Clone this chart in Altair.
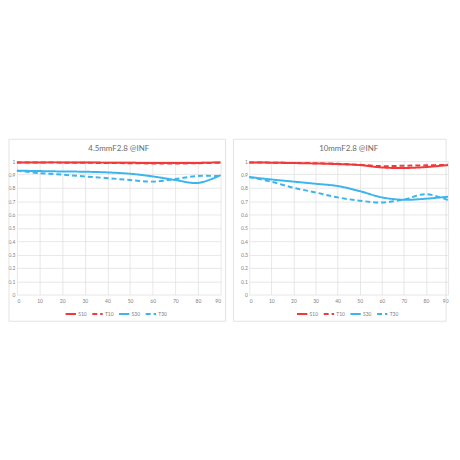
import altair as alt
import pandas as pd

# ---- data ----
angles = [0, 10, 20, 30, 40, 50, 60, 70, 80, 90]
series_names = ["S10", "T10", "S30", "T30"]

left_title = "4.5mmF2.8 @INF"
left_S10 = [0.990, 0.990, 0.990, 0.989, 0.988, 0.987, 0.985, 0.985, 0.986, 0.990]
left_T10 = [0.990, 0.989, 0.988, 0.987, 0.985, 0.984, 0.982, 0.982, 0.984, 0.988]
left_S30 = [0.928, 0.925, 0.922, 0.920, 0.915, 0.905, 0.885, 0.858, 0.836, 0.894]
left_T30 = [0.928, 0.910, 0.898, 0.885, 0.872, 0.858, 0.846, 0.865, 0.888, 0.887]

right_title = "10mmF2.8 @INF"
right_S10 = [0.990, 0.988, 0.985, 0.982, 0.977, 0.970, 0.952, 0.948, 0.955, 0.970]
right_T10 = [0.990, 0.988, 0.986, 0.984, 0.980, 0.972, 0.962, 0.965, 0.968, 0.972]
right_S30 = [0.880, 0.862, 0.846, 0.830, 0.813, 0.775, 0.728, 0.710, 0.718, 0.733]
right_T30 = [0.880, 0.845, 0.800, 0.765, 0.728, 0.703, 0.690, 0.712, 0.752, 0.707]

y_ticks = [0, 0.1, 0.2, 0.3, 0.4, 0.5, 0.6, 0.7, 0.8, 0.9, 1.0]
x_ticks = [0, 10, 20, 30, 40, 50, 60, 70, 80, 90]

series_colors = ["#f03a3a", "#f03a3a", "#3db5ec", "#3db5ec"]
series_dashes = [[1, 0], [5, 3], [1, 0], [5, 3]]


def make_df(vals):
    rows = []
    for name, arr in zip(series_names, vals):
        for a, v in zip(angles, arr):
            rows.append({"angle": a, "mtf": v, "series": name})
    return pd.DataFrame(rows)


def legend(legend_x):
    return alt.Legend(title=None, orient="none", direction="horizontal",
                      legendX=legend_x, legendY=148,
                      symbolType="stroke", symbolSize=110,
                      symbolStrokeWidth=2, labelFontSize=5,
                      labelColor="#7f7f7f", columnPadding=1,
                      labelOffset=1)


def panel(df, title, w, rx, rx2, legend_x):
    border = alt.Chart(pd.DataFrame({"k": [0]})).mark_rect(
        fill="transparent", stroke="#dcdcdc", strokeWidth=0.8, clip=False
    ).encode(
        x=alt.value(rx), x2=alt.value(rx2), y=alt.value(-22), y2=alt.value(162)
    )
    lines = alt.Chart(df).mark_line(
        interpolate="catmull-rom", strokeWidth=2
    ).encode(
        x=alt.X("angle:Q", scale=alt.Scale(domain=[0, 90], nice=False),
                axis=alt.Axis(values=x_ticks, title=None, labelPadding=4)),
        y=alt.Y("mtf:Q", scale=alt.Scale(domain=[0, 1], nice=False),
                axis=alt.Axis(values=y_ticks, format=".1~f", title=None, labelPadding=2)),
        color=alt.Color("series:N", sort=series_names,
                        scale=alt.Scale(domain=series_names, range=series_colors),
                        legend=legend(legend_x)),
        strokeDash=alt.StrokeDash("series:N", sort=series_names,
                                  scale=alt.Scale(domain=series_names, range=series_dashes),
                                  legend=legend(legend_x)),
        order=alt.Order("series:N"),
    )
    return alt.layer(border, lines).properties(
        width=w, height=135,
        title=alt.TitleParams(title, anchor="middle", fontSize=8, color="#6b6b6b",
                              font="Lato", fontWeight="normal", offset=-14),
    )


left = panel(make_df([left_S10, left_T10, left_S30, left_T30]), left_title, 206, -8, 211, 48)
right = panel(make_df([right_S10, right_T10, right_S30, right_T30]), right_title, 201, -16, 199, 47)

chart = alt.hconcat(left, right, spacing=29, bounds="flush").resolve_scale(
    x="independent", y="independent", color="independent", strokeDash="independent"
).properties(
    padding={"left": 0, "top": 130, "right": 0, "bottom": 0},
    background="white",
).configure_view(
    strokeWidth=0
).configure_axis(
    labelFont="Lato", labelFontSize=5, labelColor="#7f7f7f",
    gridColor="#dedede", gridWidth=0.7, domain=False, ticks=False,
).configure_legend(
    labelFont="Lato"
)

chart.save("out.html", embed_options={"renderer": "svg", "actions": False})
